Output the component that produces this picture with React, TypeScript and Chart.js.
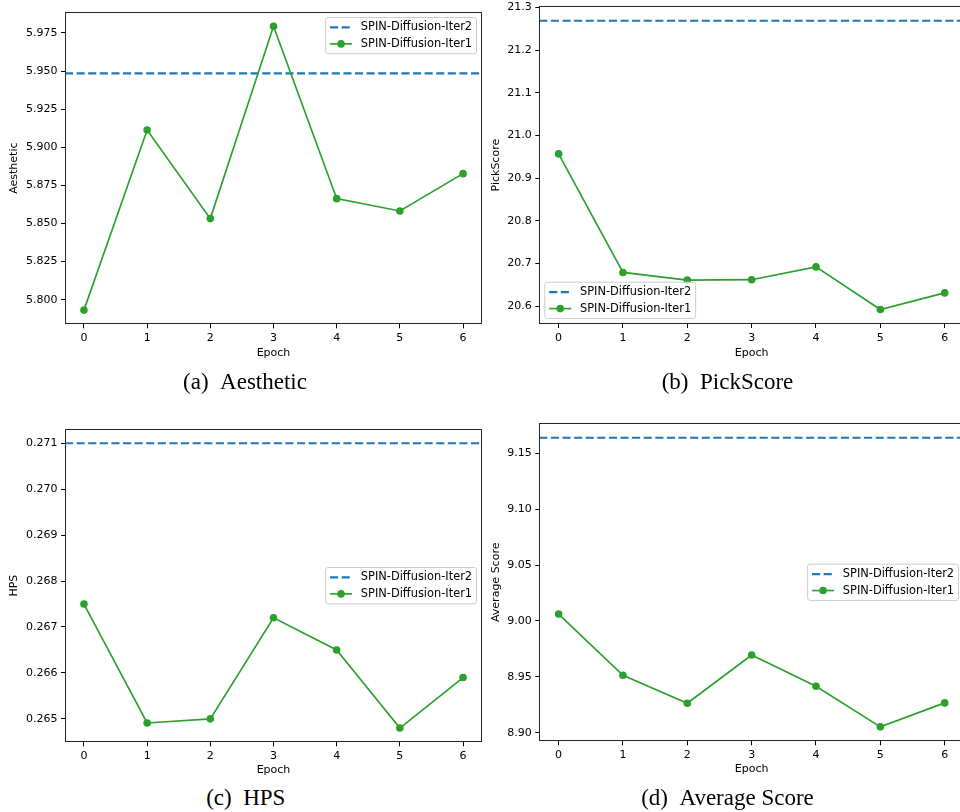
import React, { useEffect, useRef } from "react";
import { Chart, registerables } from "chart.js";

Chart.register(...registerables);
Chart.defaults.font.family = '"DejaVu Sans", sans-serif';
Chart.defaults.color = "#000";

// ---------------- data ----------------
const epochs = [0, 1, 2, 3, 4, 5, 6];
const xTickValues = [0, 1, 2, 3, 4, 5, 6];

const aestheticIter1 = [5.7932, 5.9113, 5.8532, 5.9794, 5.8663, 5.8582, 5.8827];
const aestheticIter2 = 5.9484;
const aestheticTicks = [5.8, 5.825, 5.85, 5.875, 5.9, 5.925, 5.95, 5.975];

const pickIter1 = [20.957, 20.679, 20.661, 20.662, 20.692, 20.592, 20.631];
const pickIter2 = 21.269;
const pickTicks = [20.6, 20.7, 20.8, 20.9, 21.0, 21.1, 21.2, 21.3];

const hpsIter1 = [0.2675, 0.26491, 0.265, 0.2672, 0.2665, 0.2648, 0.2659];
const hpsIter2 = 0.271;
const hpsTicks = [0.265, 0.266, 0.267, 0.268, 0.269, 0.27, 0.271];

const avgIter1 = [9.0062, 8.9515, 8.9265, 8.9696, 8.9417, 8.9054, 8.9268];
const avgIter2 = 9.1637;
const avgTicks = [8.9, 8.95, 9.0, 9.05, 9.1, 9.15];

const labelIter2 = "SPIN-Diffusion-Iter2";
const labelIter1 = "SPIN-Diffusion-Iter1";

// ---------------- styles ----------------
const BLUE = "#1f77b4";
const GREEN = "#2ca02c";

type Loc = "upper right" | "lower left" | "center right";

type PanelSpec = {
  iter1: number[];
  iter2: number;
  yTicks: number[];
  decimals: number;
  yTitle: string;
  legendLoc: Loc;
  box: { left: number; top: number; width: number; height: number };
  padding: { top: number; right: number; bottom: number; left: number };
  yAxisWidth: number;
  yTitlePad: number;
  xTitlePad: number;
};

const framePlugin = {
  id: "mplFrame",
  afterDatasetsDraw(chart: any) {
    const { ctx, chartArea: ca } = chart;
    ctx.save();
    ctx.strokeStyle = "#262626";
    ctx.lineWidth = 1;
    const l = Math.round(ca.left) + 0.5;
    const t = Math.round(ca.top) + 0.5;
    const r = Math.round(ca.right) - 0.5;
    const b = Math.round(ca.bottom) - 0.5;
    ctx.strokeRect(l, t, r - l, b - t);
    ctx.restore();
  },
};

const legendPlugin = {
  id: "mplLegend",
  afterDraw(chart: any, _args: any, opts: any) {
    const { ctx, chartArea: ca } = chart;
    const fs = 11;
    const textFs = 11.4;
    const pad = 0.4 * fs;
    const handleLen = 2 * fs;
    const textPad = 0.8 * fs;
    const spacing = 0.5 * fs;
    const axesPad = 0.5 * fs;
    const rowH = fs;
    const ds = chart.data.datasets;
    ctx.save();
    ctx.font = `${textFs}px "DejaVu Sans"`;
    const textW = Math.max(...ds.map((d: any) => ctx.measureText(d.label).width));
    const w = 2 * pad + handleLen + textPad + textW;
    const h = 2 * pad + ds.length * rowH + (ds.length - 1) * spacing;
    let x: number;
    let y: number;
    const loc: Loc = opts.loc;
    if (loc === "upper right") {
      x = ca.right - axesPad - w;
      y = ca.top + axesPad;
    } else if (loc === "lower left") {
      x = ca.left + axesPad;
      y = ca.bottom - axesPad - h;
    } else {
      x = ca.right - axesPad - w;
      y = (ca.top + ca.bottom) / 2 - h / 2;
    }
    ctx.beginPath();
    (ctx as any).roundRect(x, y, w, h, 2.5);
    ctx.fillStyle = "rgba(255,255,255,0.8)";
    ctx.fill();
    ctx.strokeStyle = "#cccccc";
    ctx.lineWidth = 1;
    ctx.stroke();
    ds.forEach((d: any, i: number) => {
      const cy = y + pad + rowH / 2 + i * (rowH + spacing);
      const hx = x + pad;
      ctx.beginPath();
      ctx.strokeStyle = d.borderColor;
      ctx.lineWidth = d.borderWidth;
      ctx.setLineDash(d.borderDash || []);
      ctx.moveTo(hx, cy);
      ctx.lineTo(hx + handleLen, cy);
      ctx.stroke();
      ctx.setLineDash([]);
      if (d.pointRadius > 0) {
        ctx.beginPath();
        ctx.fillStyle = d.pointBackgroundColor;
        ctx.arc(hx + handleLen / 2, cy, d.pointRadius, 0, Math.PI * 2);
        ctx.fill();
      }
      ctx.fillStyle = "#000";
      ctx.textAlign = "left";
      ctx.textBaseline = "middle";
      ctx.fillText(d.label, hx + handleLen + textPad, cy);
    });
    ctx.restore();
  },
};

const xLo = Math.min(...epochs);
const xHi = Math.max(...epochs);
const X_MIN = xLo - 0.05 * (xHi - xLo);
const X_MAX = xHi + 0.05 * (xHi - xLo);

function zeroPad(s: any) {
  s.paddingLeft = 0;
  s.paddingRight = 0;
  s.paddingTop = 0;
  s.paddingBottom = 0;
}

function Panel({ spec }: { spec: PanelSpec }) {
  const ref = useRef<HTMLCanvasElement>(null);
  useEffect(() => {
    const all = [...spec.iter1, spec.iter2];
    const lo = Math.min(...all);
    const hi = Math.max(...all);
    const m = (hi - lo) * 0.05;
    const gridOpts = {
      display: true,
      drawOnChartArea: false,
      drawTicks: true,
      tickLength: 4,
      color: "#000",
      lineWidth: 1,
    };
    const chart = new Chart(ref.current as HTMLCanvasElement, {
      type: "line",
      data: {
        datasets: [
          {
            label: labelIter2,
            data: [
              { x: X_MIN, y: spec.iter2 },
              { x: X_MAX, y: spec.iter2 },
            ],
            borderColor: BLUE,
            backgroundColor: BLUE,
            borderWidth: 2.2,
            borderDash: [8.1, 3.5],
            pointRadius: 0,
            order: 2,
          },
          {
            label: labelIter1,
            data: epochs.map((e, i) => ({ x: e, y: spec.iter1[i] })),
            borderColor: GREEN,
            backgroundColor: GREEN,
            borderWidth: 1.65,
            pointRadius: 3.8,
            pointBackgroundColor: GREEN,
            pointBorderColor: GREEN,
            pointBorderWidth: 0,
            order: 1,
          },
        ] as any,
      },
      options: {
        animation: false,
        responsive: false,
        events: [],
        layout: { padding: spec.padding },
        plugins: {
          legend: { display: false },
          tooltip: { enabled: false },
          mplLegend: { loc: spec.legendLoc },
        } as any,
        scales: {
          x: {
            type: "linear",
            min: X_MIN,
            max: X_MAX,
            afterBuildTicks: (s: any) => {
              s.ticks = xTickValues.map((v) => ({ value: v }));
            },
            afterFit: (s: any) => {
              s.height = 40;
              zeroPad(s);
            },
            ticks: {
              callback: (v: any) => String(v),
              padding: 3.5,
              color: "#000",
              font: { size: 11 },
              maxRotation: 0,
              autoSkip: false,
            },
            grid: gridOpts,
            border: { display: false },
            title: {
              display: true,
              text: "Epoch",
              color: "#000",
              font: { size: 11 },
              padding: { top: 0, bottom: spec.xTitlePad },
            },
          },
          y: {
            type: "linear",
            min: lo - m,
            max: hi + m,
            afterBuildTicks: (s: any) => {
              s.ticks = spec.yTicks.map((v) => ({ value: v }));
            },
            afterFit: (s: any) => {
              s.width = spec.yAxisWidth;
              zeroPad(s);
            },
            ticks: {
              callback: (v: any) => Number(v).toFixed(spec.decimals),
              padding: 3.5,
              color: "#000",
              font: { size: 11 },
              autoSkip: false,
            },
            grid: gridOpts,
            border: { display: false },
            title: {
              display: true,
              text: spec.yTitle,
              color: "#000",
              font: { size: 11 },
              padding: { top: spec.yTitlePad, bottom: 0 },
            },
          },
        } as any,
      },
      plugins: [framePlugin, legendPlugin],
    });
    return () => chart.destroy();
  }, [spec]);
  const { left, top, width, height } = spec.box;
  return (
    <canvas
      ref={ref}
      width={width}
      height={height}
      style={{ position: "absolute", left, top, width, height }}
    />
  );
}

const panels: PanelSpec[] = [
  {
    iter1: aestheticIter1,
    iter2: aestheticIter2,
    yTicks: aestheticTicks,
    decimals: 3,
    yTitle: "Aesthetic",
    legendLoc: "upper right",
    box: { left: 0, top: 0, width: 490, height: 370 },
    padding: { top: 12, right: 8, bottom: 5.7, left: 0 },
    yAxisWidth: 65,
    yTitlePad: 7.4,
    xTitlePad: 4.6,
  },
  {
    iter1: pickIter1,
    iter2: pickIter2,
    yTicks: pickTicks,
    decimals: 1,
    yTitle: "PickScore",
    legendLoc: "lower left",
    box: { left: 480, top: 0, width: 490, height: 370 },
    padding: { top: 6.3, right: 6, bottom: 6, left: 0 },
    yAxisWidth: 59.3,
    yTitlePad: 9.1,
    xTitlePad: 4.6,
  },
  {
    iter1: hpsIter1,
    iter2: hpsIter2,
    yTicks: hpsTicks,
    decimals: 3,
    yTitle: "HPS",
    legendLoc: "center right",
    box: { left: 0, top: 412, width: 490, height: 372 },
    padding: { top: 17, right: 8, bottom: 1.7, left: 0 },
    yAxisWidth: 65,
    yTitlePad: 7.4,
    xTitlePad: 5.5,
  },
  {
    iter1: avgIter1,
    iter2: avgIter2,
    yTicks: avgTicks,
    decimals: 2,
    yTitle: "Average Score",
    legendLoc: "center right",
    box: { left: 480, top: 412, width: 490, height: 372 },
    padding: { top: 11.3, right: 6, bottom: 2.7, left: 0 },
    yAxisWidth: 59.3,
    yTitlePad: 9.1,
    xTitlePad: 5.5,
  },
];

const captions = [
  { tag: "(a)", text: "Aesthetic", cx: 245, top: 370 },
  { tag: "(b)", text: "PickScore", cx: 727.5, top: 370 },
  { tag: "(c)", text: "HPS", cx: 245.8, top: 785.7 },
  { tag: "(d)", text: "Average Score", cx: 727.5, top: 786 },
];

export default function App() {
  return (
    <div
      style={{
        position: "absolute",
        left: 0,
        top: 0,
        width: 960,
        height: 812,
        overflow: "hidden",
        background: "#fff",
      }}
    >
      {panels.map((p, i) => (
        <Panel key={i} spec={p} />
      ))}
      {captions.map((c, i) => (
        <div
          key={i}
          style={{
            position: "absolute",
            left: c.cx - 150,
            top: c.top,
            width: 300,
            textAlign: "center",
            fontFamily: '"Liberation Serif", "Times New Roman", serif',
            fontSize: 23,
            lineHeight: "23px",
            whiteSpace: "nowrap",
            color: "#000",
          }}
        >
          {c.tag}
          <span style={{ marginLeft: "0.5em" }}>{c.text}</span>
        </div>
      ))}
    </div>
  );
}
